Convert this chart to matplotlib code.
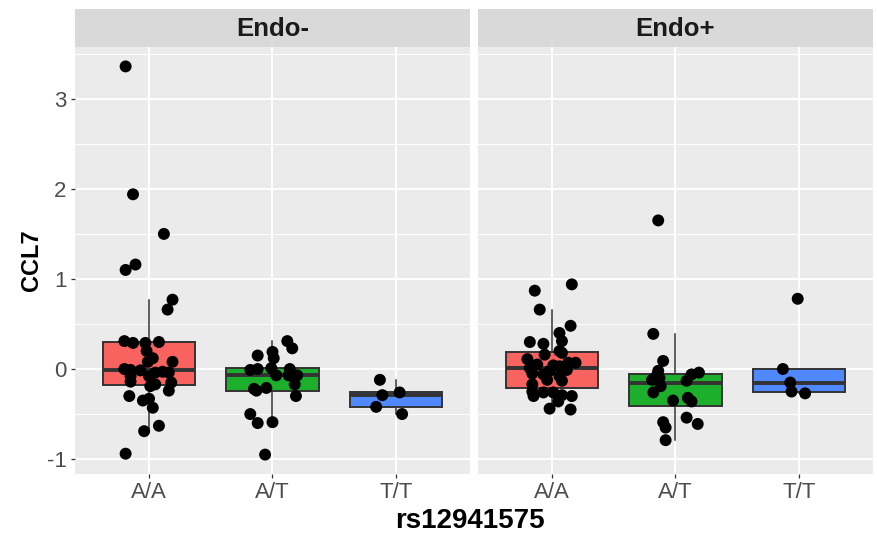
import numpy as np
import matplotlib
matplotlib.use("Agg")
import matplotlib.pyplot as plt
from matplotlib.ticker import MultipleLocator

plt.rcParams["font.family"] = ["Liberation Sans", "DejaVu Sans"]

genotypes = ["A/A", "A/T", "T/T"]
facets = ["Endo-", "Endo+"]
box_colors = ["#F8635F", "#1BAF2C", "#4F88FF"]
y_ticks = [-1, 0, 1, 2, 3]
y_tick_labels = ["-1", "0", "1", "2", "3"]

# CCL7 expression per sample, Endo- group
endo_minus_AA = [3.36, 1.94, 1.50, 1.16, 1.10, 0.77, 0.66, 0.31, 0.29, 0.30, 0.29,
                 0.20, 0.12, 0.08, 0.08, 0.00, -0.01, -0.015, -0.04, -0.03, -0.04,
                 -0.08, -0.08, -0.14, -0.15, -0.17, -0.19, -0.24, -0.30, -0.33,
                 -0.35, -0.43, -0.63, -0.69, -0.94]
endo_minus_AA_jit = [-0.19, -0.13, 0.12, -0.11, -0.19, 0.19, 0.15, -0.20, -0.13, 0.08, -0.03,
                     -0.02, 0.03, -0.01, 0.19, -0.20, -0.15, -0.07, 0.05, 0.11, 0.16,
                     -0.15, 0.00, -0.15, 0.18, 0.05, 0.01, 0.16, -0.16, 0.00,
                     -0.05, 0.03, 0.08, -0.04, -0.19]
endo_minus_AT = [0.31, 0.23, 0.15, 0.19, 0.12, -0.01, 0.00, 0.01, 0.00, -0.07, -0.07,
                 -0.07, -0.17, -0.21, -0.22, -0.24, -0.30, -0.50, -0.60, -0.59, -0.95]
endo_minus_AT_jit = [0.12, 0.16, -0.12, 0.00, 0.01, -0.18, -0.12, -0.01, 0.14, 0.03, 0.13,
                     0.20, 0.18, -0.05, -0.15, -0.13, 0.19, -0.18, -0.12, 0.00, -0.06]
endo_minus_TT = [-0.12, -0.29, -0.26, -0.42, -0.50]
endo_minus_TT_jit = [-0.13, -0.11, 0.03, -0.16, 0.05]

# CCL7 expression per sample, Endo+ group
endo_plus_AA = [0.94, 0.87, 0.66, 0.48, 0.40, 0.30, 0.28, 0.31, 0.20, 0.18, 0.16,
                0.11, 0.07, 0.07, 0.05, 0.04, 0.03, 0.01, -0.01, -0.02, -0.05,
                -0.06, -0.08, -0.12, -0.13, -0.17, -0.25, -0.26, -0.30, -0.26,
                -0.29, -0.30, -0.36, -0.44, -0.45]
endo_plus_AA_jit = [0.16, -0.14, -0.10, 0.15, 0.06, -0.18, -0.07, 0.08, 0.06, 0.08, -0.06,
                    -0.20, 0.19, 0.13, -0.12, 0.01, 0.06, -0.18, 0.12, -0.02, -0.16,
                    -0.07, 0.06, -0.04, 0.08, -0.16, -0.16, -0.07, -0.15, 0.01,
                    0.08, 0.16, 0.05, -0.02, 0.15]
endo_plus_AT = [1.65, 0.39, 0.09, -0.02, -0.04, -0.06, -0.07, -0.10, -0.12, -0.13,
                -0.19, -0.26, -0.35, -0.32, -0.36, -0.54, -0.61, -0.59, -0.65, -0.79]
endo_plus_AT_jit = [-0.14, -0.18, -0.10, -0.14, 0.19, 0.13, -0.15, -0.13, -0.19, 0.09,
                    -0.12, -0.18, -0.02, 0.10, 0.13, 0.09, 0.18, -0.10, -0.08, -0.08]
endo_plus_TT = [0.78, 0.00, -0.15, -0.25, -0.27]
endo_plus_TT_jit = [-0.01, -0.13, -0.07, -0.06, 0.05]

groups = {
    "Endo-": [(endo_minus_AA, endo_minus_AA_jit), (endo_minus_AT, endo_minus_AT_jit),
              (endo_minus_TT, endo_minus_TT_jit)],
    "Endo+": [(endo_plus_AA, endo_plus_AA_jit), (endo_plus_AT, endo_plus_AT_jit),
              (endo_plus_TT, endo_plus_TT_jit)],
}

W, H = 878, 535
fig = plt.figure(figsize=(W / 100, H / 100), dpi=100)


def px_axes(x0, y0, x1, y1):
    return fig.add_axes([x0 / W, 1 - y1 / H, (x1 - x0) / W, (y1 - y0) / H])


all_vals = np.concatenate([np.asarray(v) for g in groups.values() for v, _ in g])
lo, hi = all_vals.min(), all_vals.max()
pad = 0.05 * (hi - lo)
ylim = (lo - pad, hi + pad)

panel_boxes = [(75, 47, 470, 474), (478, 47, 873, 474)]
strip_boxes = [(75, 9, 470, 47), (478, 9, 873, 47)]

positions = np.arange(1, len(genotypes) + 1)

for i, facet in enumerate(facets):
    ax = px_axes(*panel_boxes[i])
    ax.set_facecolor("#EBEBEB")
    for s in ax.spines.values():
        s.set_visible(False)

    data = [np.asarray(v) for v, _ in groups[facet]]
    bp = ax.boxplot(data, positions=positions, widths=0.75, patch_artist=True,
                    whis=1.5, showfliers=False, showcaps=False,
                    medianprops=dict(color="#333333", linewidth=2.8),
                    whiskerprops=dict(color="#333333", linewidth=1.1),
                    boxprops=dict(edgecolor="#333333", linewidth=1.4),
                    zorder=2)
    for patch, c in zip(bp["boxes"], box_colors):
        patch.set_facecolor(c)

    for k, (vals, jit) in enumerate(groups[facet]):
        ax.scatter(positions[k] + np.asarray(jit), vals, s=74, color="black",
                   edgecolors="none", zorder=3)

    ax.set_xlim(0.4, 3.6)
    ax.set_ylim(*ylim)
    ax.set_axisbelow(True)
    ax.set_yticks(y_ticks)
    ax.yaxis.set_minor_locator(MultipleLocator(0.5))
    ax.grid(which="major", color="white", linewidth=1.4)
    ax.grid(which="minor", axis="y", color="white", linewidth=0.7)
    ax.set_xticks(positions)
    ax.set_xticklabels(genotypes)
    ax.tick_params(which="major", length=3, width=0.9, color="#333333",
                   labelcolor="#4D4D4D", labelsize=16, pad=3)
    ax.tick_params(which="minor", length=0)
    if i == 0:
        ax.set_yticklabels(y_tick_labels)
        ax.set_ylabel("CCL7", fontsize=17, fontweight="bold", labelpad=3)
    else:
        ax.tick_params(axis="y", which="major", length=0, labelleft=False)

    sax = px_axes(*strip_boxes[i])
    sax.set_facecolor("#D9D9D9")
    sax.set_xticks([])
    sax.set_yticks([])
    for s in sax.spines.values():
        s.set_visible(False)
    sax.text(0.5, 0.47, facet, ha="center", va="center", fontsize=18.5,
             fontweight="bold", color="#1A1A1A", transform=sax.transAxes)

fig.text(470 / W, 1 - 521 / H, "rs12941575", ha="center", va="center",
         fontsize=20, fontweight="bold", color="black")

fig.savefig("out.png", dpi=100)
